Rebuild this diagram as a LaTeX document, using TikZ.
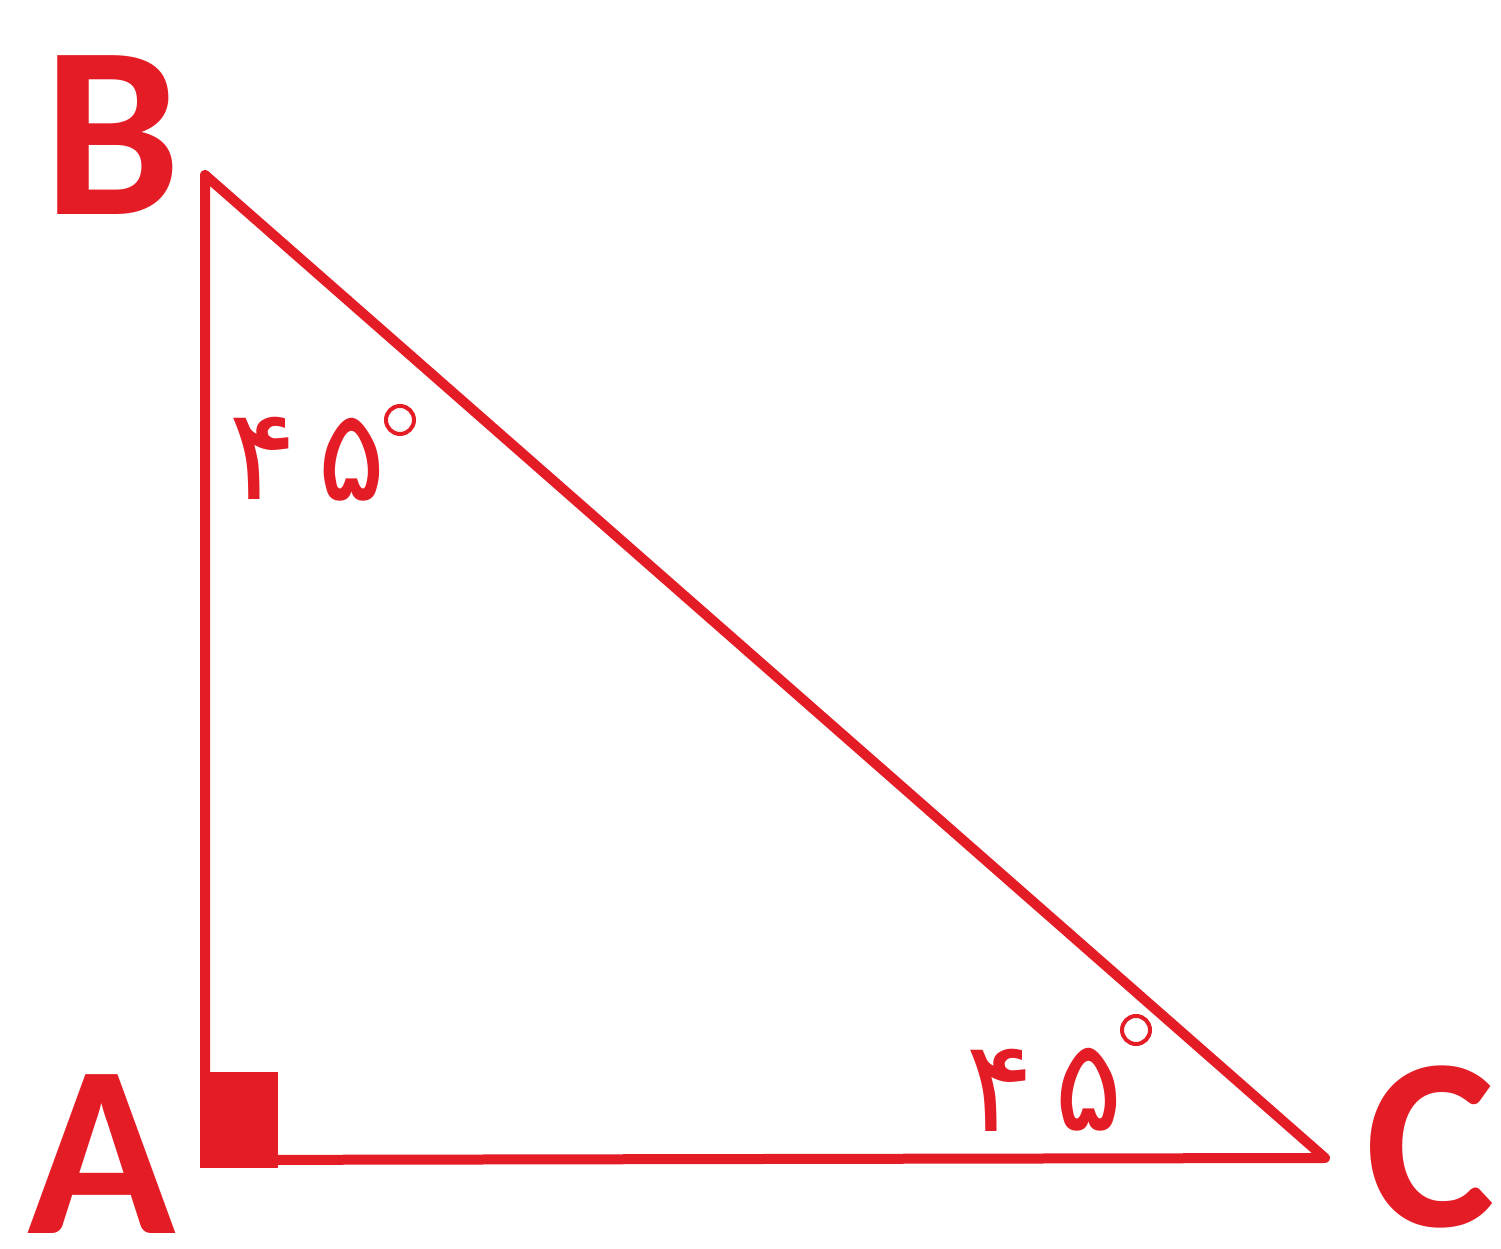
\documentclass[tikz,border=0pt]{standalone}
\usepackage{fontspec}
\setmainfont{Carlito}
\newfontfamily\arabicfont[Script=Arabic]{DejaVu Sans}
\definecolor{tri}{RGB}{228,28,38}
\begin{document}
\begin{tikzpicture}[x=1pt,y=1pt,
  edge/.style={draw=tri,line width=10pt,line join=round,line cap=round},
  vlabel/.style={text=tri,inner sep=0pt,font=\fontsize{245}{245}\selectfont\bfseries},
  dig/.style={text=tri,inner sep=0pt,font=\arabicfont\fontsize{128}{128}\selectfont},
  deg/.style={draw=tri,line width=4pt}]
\useasboundingbox (0,0) rectangle (1501,1249);
\coordinate (B) at (205,1074);
\coordinate (A) at (205,89);
\coordinate (C) at (1325,91);
\fill[tri] (200,81) rectangle (278,177);
\draw[edge] (B) -- (A) -- (C) -- cycle;
\node[vlabel] (lB) at (112,1114) {B};
\node[vlabel] (lA) at (102,95) {A};
\node[vlabel] (lC) at (1430,102) {C};
% angle at B
\node[dig] (b4) at (263,791) {۴};
\node[dig] (b5) at (352,789) {۵};
\draw[deg] (400,829) circle (14);
% angle at C
\node[dig] (c4) at (1000,159) {۴};
\node[dig] (c5) at (1089,159) {۵};
\draw[deg] (1136,219) circle (14);
\end{tikzpicture}
\end{document}
